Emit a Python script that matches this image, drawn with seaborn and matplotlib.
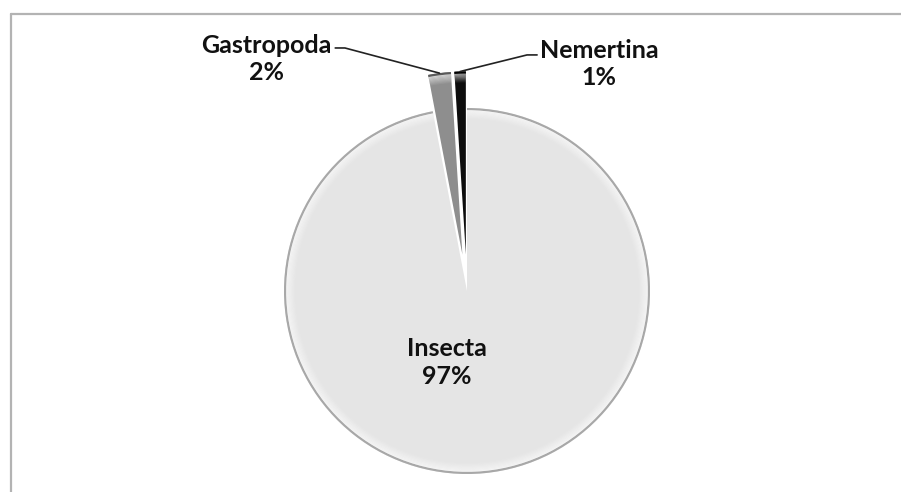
import matplotlib.pyplot as plt
import numpy as np
import seaborn as sns
from matplotlib.lines import Line2D
from matplotlib.patches import Wedge

taxa = ["Insecta", "Gastropoda", "Nemertina"]
shares = [97, 2, 1]
explode = [0.0, 0.2, 0.2]
colors = ["#e5e5e5", "#8e8e8e", "#0d0d0d"]
edge_colors = ["#a8a8a8", "#5a5a5a", "#000000"]

sns.set_theme(style="white")
plt.rcParams["font.family"] = ["Lato", "DejaVu Sans"]

fig = plt.figure(figsize=(9.01, 4.92), dpi=100)

# pie centre at (467, 291) px, radius 183 px; limits +-1.35
lim = 1.35
r_px = 183
side = 2 * lim * r_px
ax = fig.add_axes([(467 - side / 2) / 901, (201 - side / 2) / 492, side / 901, side / 492])

wedges, _ = ax.pie(
    shares,
    explode=explode,
    colors=colors,
    startangle=90,
    counterclock=False,
    wedgeprops=dict(linewidth=0),
)

# soft bevel: thin dark rim, then a fading light band
for w, ec in zip(wedges, edge_colors):
    ax.add_patch(Wedge(w.center, w.r, w.theta1, w.theta2, width=0.012, color=ec, lw=0))
    steps = 8
    for k in range(steps):
        r_out = w.r - 0.012 - k * 0.006
        ax.add_patch(Wedge(w.center, r_out, w.theta1, w.theta2, width=0.006,
                           color="white", alpha=0.6 * (1 - k / steps), lw=0))

ax.set_xlim(-lim, lim)
ax.set_ylim(-lim, lim)
ax.set_aspect("equal")
ax.axis("off")

def tip(w):
    mid = np.deg2rad((w.theta1 + w.theta2) / 2)
    return w.center[0] + w.r * np.cos(mid), w.center[1] + w.r * np.sin(mid)

txt = dict(ha="center", va="center", fontsize=18, fontweight="bold",
           color="#111111", linespacing=1.25)

ax.text(-0.11, -0.39, f"{taxa[0]}\n{shares[0]}%", **txt)
ax.text(-1.098, 1.268, f"{taxa[1]}\n{shares[1]}%", **txt)
ax.text(0.721, 1.240, f"{taxa[2]}\n{shares[2]}%", **txt)

gx, gy = tip(wedges[1])
ax.plot([-0.72, -0.667, gx], [1.328, 1.328, gy], color="#222222", lw=1.2, clip_on=False)
nx, ny = tip(wedges[2])
ax.plot([nx, 0.328, 0.383], [ny, 1.290, 1.290], color="#222222", lw=1.2, clip_on=False)

# chart frame, cropped at right and bottom
fx = 10.5 / 901
fy = 1 - 13.5 / 492
fig.add_artist(Line2D([fx, fx], [0, fy], color="#b3b3b3", lw=1.6))
fig.add_artist(Line2D([fx, 1], [fy, fy], color="#b3b3b3", lw=1.6))

fig.savefig("out.png", dpi=100, facecolor="white")
